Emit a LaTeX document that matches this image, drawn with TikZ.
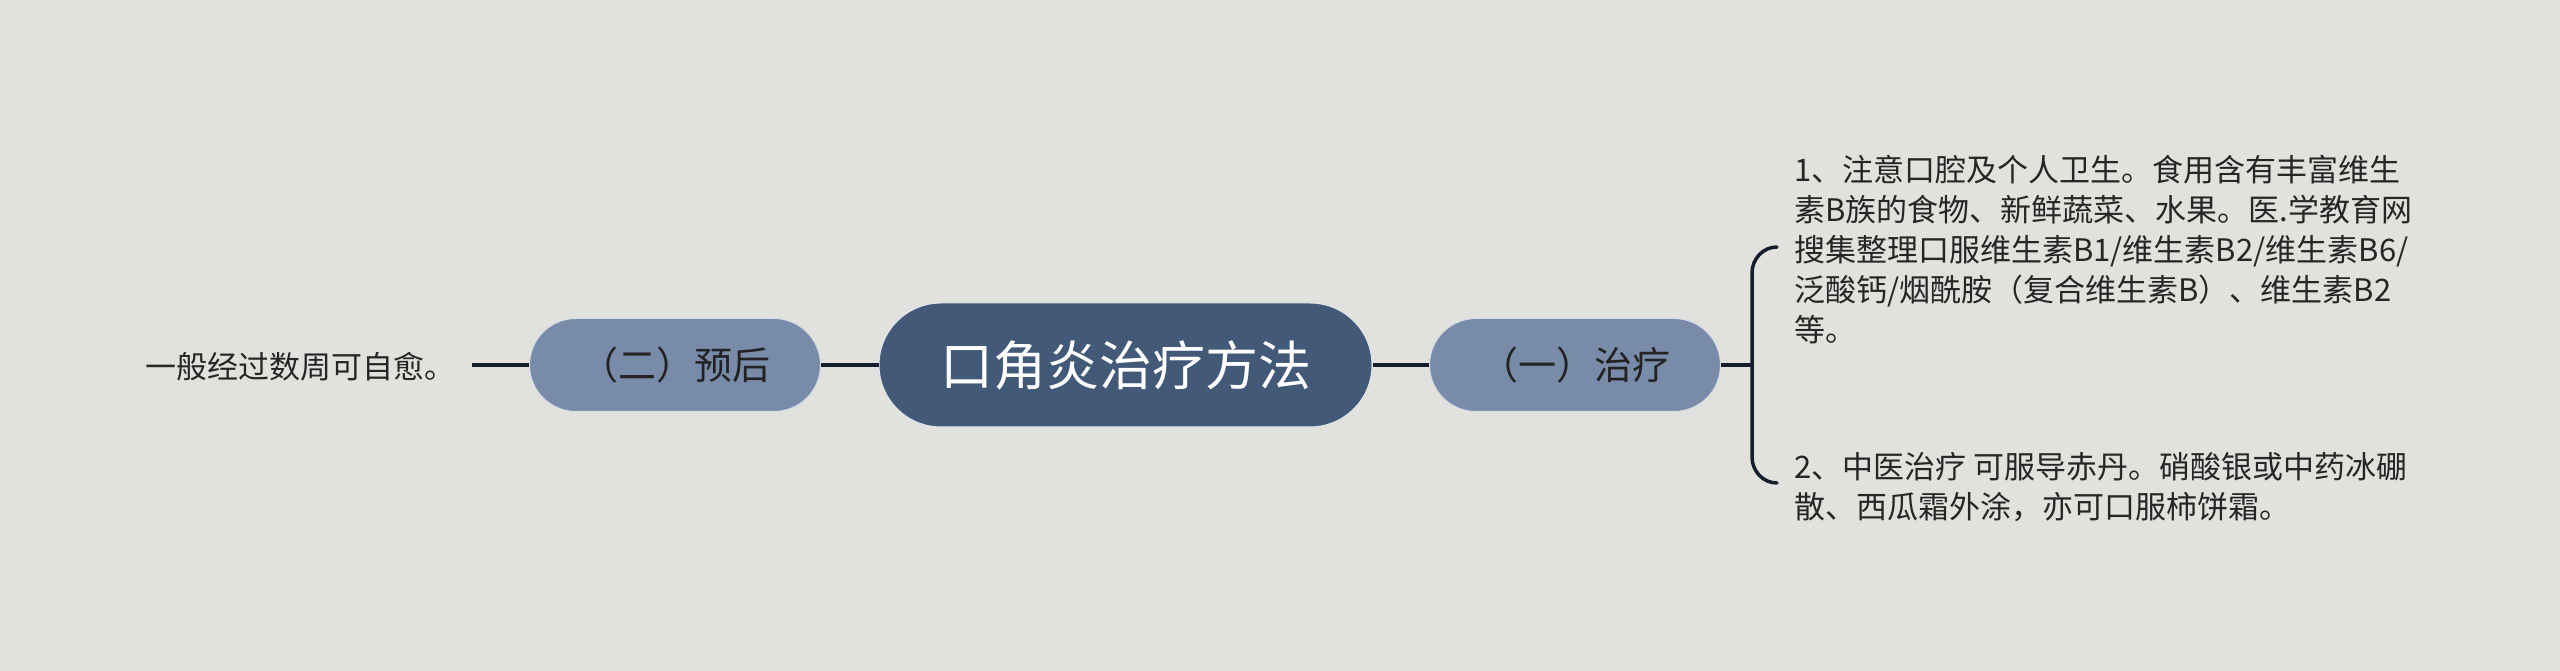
\documentclass[tikz,border=0pt]{standalone}
\usepackage{fontspec}
\setmainfont{Noto Sans CJK SC}
\usetikzlibrary{shapes.misc}
\definecolor{bg}{HTML}{E1E2DD}
\definecolor{rootfill}{HTML}{425A78}
\definecolor{subfill}{HTML}{788CAA}
\definecolor{linec}{HTML}{141E2D}
\definecolor{txt}{HTML}{262626}
\tikzset{
  rootbox/.style={rounded rectangle, fill=rootfill, draw=white!85!rootfill, line width=1pt,
    minimum width=493pt, minimum height=124pt, inner sep=0pt, text=white,
    font=\fontsize{53}{60}\selectfont},
  subbox/.style={rounded rectangle, fill=subfill, draw=white!70!subfill, line width=1pt,
    minimum width=291pt, minimum height=93pt, inner sep=0pt, text=txt!90!black,
    font=\fontsize{38}{44}\selectfont},
  leaf/.style={inner sep=0pt, text=txt, align=left, font=\fontsize{31}{40}\selectfont},
  conn/.style={draw=linec, line width=4pt},
  brace/.style={draw=linec, line width=3.5pt, line cap=round}
}
\begin{document}
\begin{tikzpicture}[x=1pt,y=1pt]
\useasboundingbox (0,0) rectangle (2560,671);
\fill[bg] (0,0) rectangle (2560,671);
\node[rootbox] (root) at (1125.5,306) {口角炎治疗方法};
\node[subbox] (lp) at (675,306) {（二）预后};
\node[subbox] (rp) at (1575,306) {（一）治疗};
\node[leaf, anchor=east, inner xsep=16pt] (lt) at (472,304) {一般经过数周可自愈。};
\node[leaf, anchor=west] (t1) at (1794,421) {1、注意口腔及个人卫生。食用含有丰富维生\\素B族的食物、新鲜蔬菜、水果。医.学教育网\\搜集整理口服维生素B1/维生素B2/维生素B6/\\泛酸钙/烟酰胺（复合维生素B）、维生素B2\\等。};
\node[leaf, anchor=west] (t2) at (1794,184) {2、中医治疗 可服导赤丹。硝酸银或中药冰硼\\散、西瓜霜外涂，亦可口服柿饼霜。};
\coordinate (bj) at (1752,306);
\coordinate (b1) at (1777,424);
\coordinate (b2) at (1777,188);
\draw[conn] (root.west) -- (lp.east);
\draw[conn] (lp.west) -- (lp.west -| lt.east);
\draw[conn] (root.east) -- (rp.west);
\draw[conn] (rp.east) -- (bj);
\draw[brace] (b1) to[out=180,in=90] (1752,398) -- (1752,214) to[out=-90,in=180] (b2);
\end{tikzpicture}
\end{document}
